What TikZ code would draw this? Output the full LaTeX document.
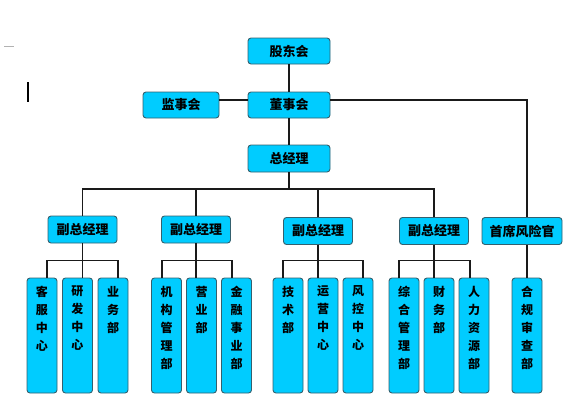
\documentclass[tikz,border=0pt]{standalone}
\usepackage{fontspec}
\newfontfamily\cjk{Noto Sans CJK SC}
\definecolor{boxfill}{HTML}{00CCFF}
\definecolor{boxline}{HTML}{34606E}
\definecolor{wirecol}{HTML}{1A1A1A}
\tikzset{
  post/.style={draw=boxline, fill=boxfill, rounded corners=3pt,
    line width=0.9pt, inner sep=0pt,
    font=\cjk\bfseries\fontsize{13}{13}\selectfont},
  leaf/.style={post, minimum width=30pt, minimum height=115pt,
    font=\cjk\bfseries\fontsize{12}{18}\selectfont},
  wire/.style={draw=wirecol, line width=1.3pt}
}
\newcommand{\leafBox}[3]{ \node[leaf] (#1) at (#2,335.5)
  {\parbox[c][99pt][t]{30pt}{\centering #3}}; }

\begin{document}
\begin{tikzpicture}[x=1pt,y=-1pt]
  \useasboundingbox (0,0) rectangle (579,405);
  % stray marks
  \draw[gray!60, line width=0.8pt] (4,46) -- (14,46);
  \draw[line width=2pt] (28,82) -- (28,102);

  % top levels
  \node[post, minimum width=82pt, minimum height=26pt] (share) at (289,51) {股东会};
  \node[post, minimum width=82pt, minimum height=26pt] (board) at (289,105) {董事会};
  \node[post, minimum width=76pt, minimum height=26pt] (sup) at (181,105) {监事会};
  \node[post, minimum width=82pt, minimum height=27pt] (gm) at (289,158.5) {总经理};
  \node[post, minimum width=69pt, minimum height=27pt] (vp1) at (82.5,229.5) {副总经理};
  \node[post, minimum width=69pt, minimum height=27pt] (vp2) at (196,229.5) {副总经理};
  \node[post, minimum width=69pt, minimum height=27pt] (vp3) at (318,231) {副总经理};
  \node[post, minimum width=69pt, minimum height=27pt] (vp4) at (434,231) {副总经理};
  \node[post, minimum width=80pt, minimum height=27pt] (cro) at (522,231) {首席风险官};
  \coordinate (gmbus) at (289,189);

  % departments
  \leafBox{kefu}{42}{客\\服\\中\\心}
  \leafBox{yanfa}{77.5}{研\\发\\中\\心}
  \leafBox{yewu}{113}{业\\务\\部}
  \leafBox{jigou}{166.5}{机\\构\\管\\理\\部}
  \leafBox{yingye}{201.5}{营\\业\\部}
  \leafBox{jinrong}{236.5}{金\\融\\事\\业\\部}
  \leafBox{jishu}{288}{技\\术\\部}
  \leafBox{yunying}{323}{运\\营\\中\\心}
  \leafBox{fengkong}{358}{风\\控\\中\\心}
  \leafBox{zonghe}{404}{综\\合\\管\\理\\部}
  \leafBox{caiwu}{439}{财\\务\\部}
  \leafBox{renli}{474}{人\\力\\资\\源\\部}
  \leafBox{hegui}{527}{合\\规\\审\\查\\部}

  % connectors
  \draw[wire] (share) -- (board);
  \draw[wire] (board) -- (gm);
  \draw[wire] ([yshift=5pt]sup.east) -- ([yshift=5pt]board.west);
  \draw[wire] ([yshift=5pt]board.east) -| ([xshift=5pt]cro.north);
  \draw[wire] ([xshift=5pt]cro.south) -- (hegui);
  \draw[wire] (gm) -- (gmbus);
  \draw[wire] (vp1.north) |- (gmbus) -| (vp4.north);
  \draw[wire] (vp2.north) -- (vp2 |- gmbus);
  \draw[wire] (vp3.north) -- (vp3 |- gmbus);

  \draw[wire] (vp1) -- (vp1 |- yanfa.north);
  \draw[wire] ([xshift=5pt]kefu.north) -- ++(0,-17) -| ([xshift=5pt]yewu.north);
  \draw[wire] (vp2) -- (vp2 |- yingye.north);
  \draw[wire] ([xshift=-4.5pt]jigou.north) -- ++(0,-17) -| ([xshift=-4.5pt]jinrong.north);
  \draw[wire] (vp3) -- (vp3 |- yunying.north);
  \draw[wire] ([xshift=-5pt]jishu.north) -- ++(0,-17) -| ([xshift=5pt]fengkong.north);
  \draw[wire] (vp4) -- (vp4 |- caiwu.north);
  \draw[wire] ([xshift=-5pt]zonghe.north) -- ++(0,-17) -| ([xshift=-4pt]renli.north);
\end{tikzpicture}
\end{document}
